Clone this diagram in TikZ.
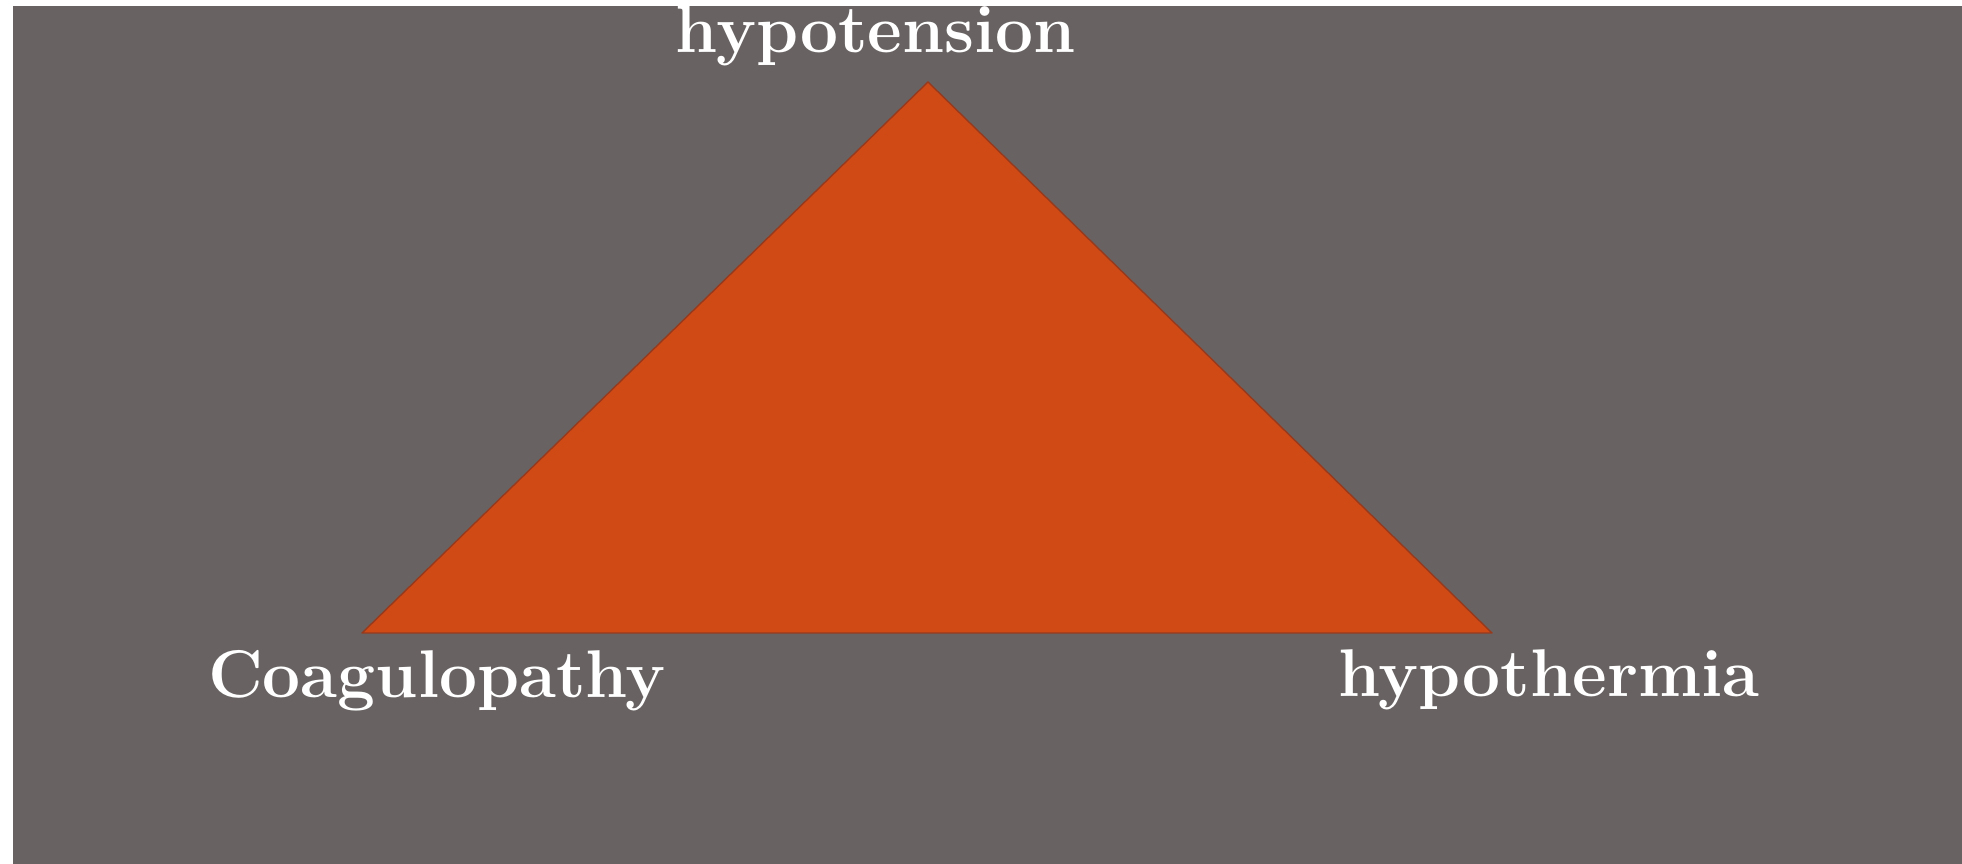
\documentclass[tikz,border=0pt]{standalone}
\usepackage{tikz}
\usetikzlibrary{calc}

\definecolor{fondo}{RGB}{104,99,98}
\definecolor{naranja}{RGB}{208,74,22}
\definecolor{borde}{RGB}{150,58,30}

\begin{document}
\begin{tikzpicture}[
    line join=round,
    every node/.style={font=\fontsize{19.2}{23}\selectfont\bfseries, text=white, inner sep=0pt},
    etiqueta/.style={anchor=base},
    cara/.style={fill=naranja, draw=borde, thin}
]

\useasboundingbox (0,0) rectangle (19.62,8.64);
\fill[fondo] (0.13,0) rectangle (19.62,8.58);

\coordinate (A) at (9.28,7.82);
\coordinate (B) at (3.62,2.31);
\coordinate (C) at (14.92,2.31);

\draw[cara] (A) -- (C) -- (B) -- cycle;

\node[etiqueta] (hipo)  at (8.76,8.11) {hypotension};
\node[etiqueta] (coag)  at (4.37,1.66) {Coagulopathy};
\node[etiqueta] (termo) at (15.49,1.67) {hypothermia};

\end{tikzpicture}
\end{document}
